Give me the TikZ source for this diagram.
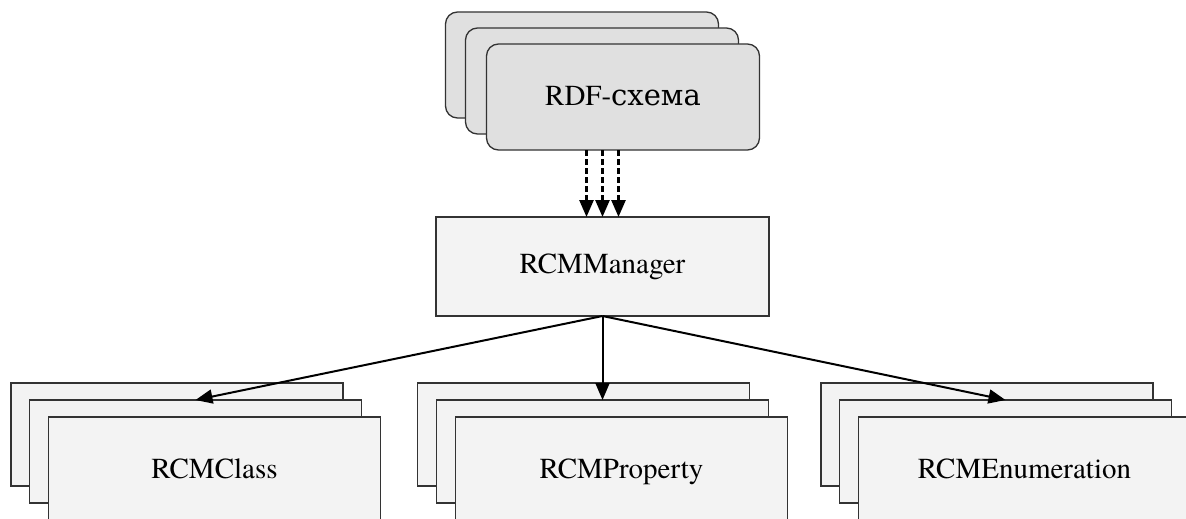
\documentclass[tikz,border=0pt]{standalone}
\usepackage{fontspec}
\newfontfamily\lblfont{texgyretermes-regular.otf}
\IfFontExistsTF{STIXTwoText-Regular.otf}
  {\newfontfamily\cyrfont[Scale=0.96]{STIXTwoText-Regular.otf}}
  {\IfFontExistsTF{cmunrm.otf}
     {\newfontfamily\cyrfont{cmunrm.otf}}
     {\newfontfamily\cyrfont{DejaVu Serif}}}
\usetikzlibrary{arrows.meta,calc}
\definecolor{topfill}{HTML}{E0E0E0}
\definecolor{botfill}{HTML}{F3F3F3}
\definecolor{edge}{HTML}{333333}
\begin{document}
\begin{tikzpicture}[x=1pt,y=-1pt,
  topcard/.style={draw=edge,fill=topfill,line width=1.3pt,rounded corners=12pt,minimum width=273pt,minimum height=106pt,inner sep=0pt,outer sep=0pt},
  botcard/.style={draw=edge,fill=botfill,line width=1.3pt,minimum width=332pt,minimum height=103pt,inner sep=0pt,outer sep=0pt},
  mgrbox/.style={draw=edge,fill=botfill,line width=1.3pt,minimum width=333pt,minimum height=99pt,inner sep=0pt,outer sep=0pt},
  lbl/.style={font=\lblfont\fontsize{29}{34}\selectfont,anchor=base,inner sep=0pt},
  conn/.style={line width=2pt,-{Triangle[length=17pt,width=14pt]}},
  dconn/.style={line width=2.6pt,dash pattern=on 6pt off 3pt,-{Triangle[length=17pt,width=14pt]}}]
\useasboundingbox (0,0) rectangle (1186,519);
\clip (0,0) rectangle (1186,519);
% top stack
\node[topcard] (tback) at (582,65) {};
\node[topcard] (tmid) at (602,81) {};
\node[topcard] (tfront) at (623,97) {};
\node[lbl] (tlbl) at (623,106) {RDF-{\cyrfont схема}};
% manager
\node[mgrbox] (mgr) at (602.5,266.5) {};
\node[lbl] (mlbl) at (602.5,273) {RCMManager};
% bottom left
\node[botcard] (lback) at (177,434.5) {};
\node[botcard] (lmid) at (195.5,451.5) {};
\node[botcard] (lfront) at (214.5,468.5) {};
\node[lbl] (llbl) at (214.5,478) {RCMClass};
% bottom middle
\node[botcard] (cback) at (583.5,434.5) {};
\node[botcard] (cmid) at (602.5,451.5) {};
\node[botcard] (cfront) at (621.5,468.5) {};
\node[lbl] (clbl) at (621.5,478) {RCMProperty};
% bottom right
\node[botcard] (rback) at (987,434.5) {};
\node[botcard] (rmid) at (1005.5,451.5) {};
\node[botcard] (rfront) at (1024.5,468.5) {};
\node[lbl] (rlbl) at (1024.5,478) {RCMEnumeration};
% dashed arrows
\foreach \dx in {-16,0,16}{
  \draw[dconn] ($(mgr.north |- tfront.south)+(\dx,0)$) -- ($(mgr.north)+(\dx,0)$);
}
% solid arrows
\draw[conn] (mgr.south) -- (lmid.north);
\draw[conn] (mgr.south) -- (cmid.north);
\draw[conn] (mgr.south) -- (rmid.north);
\end{tikzpicture}
\end{document}
